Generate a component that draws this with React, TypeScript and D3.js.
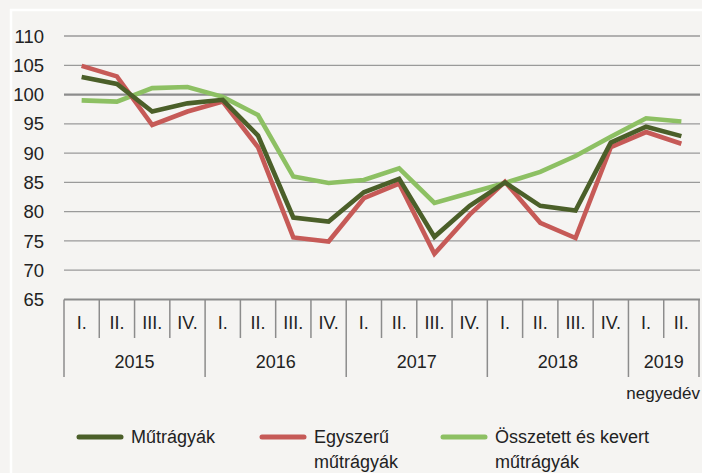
import React, { useEffect, useRef } from "react";
import * as d3 from "d3";

const quarters = ["I.", "II.", "III.", "IV.", "I.", "II.", "III.", "IV.", "I.", "II.", "III.", "IV.", "I.", "II.", "III.", "IV.", "I.", "II."];
const years = ["2015", "2016", "2017", "2018", "2019"];
const yearQuarterCounts = [4, 4, 4, 4, 2];
const yTicks = [65, 70, 75, 80, 85, 90, 95, 100, 105, 110];

const mutragyak = [103.0, 101.8, 97.1, 98.5, 99.1, 93.0, 79.0, 78.3, 83.3, 85.6, 75.7, 81.0, 85.0, 81.0, 80.2, 91.8, 94.5, 92.9];
const egyszeru = [104.9, 103.1, 94.8, 97.1, 98.8, 91.0, 75.6, 74.9, 82.3, 84.8, 72.8, 79.5, 85.1, 78.1, 75.5, 91.0, 93.6, 91.6];
const osszetett = [99.0, 98.8, 101.1, 101.3, 99.6, 96.5, 86.0, 84.9, 85.4, 87.4, 81.5, 83.2, 84.9, 86.8, 89.5, 92.8, 95.95, 95.4];

const seriesNames = ["Műtrágyák", "Egyszerű műtrágyák", "Összetett és kevert műtrágyák"];
const legendLines = [["Műtrágyák"], ["Egyszerű", "műtrágyák"], ["Összetett és kevert", "műtrágyák"]];
const colors = ["#4b5f29", "#c65a57", "#8dc063"];
const axisNote = "negyedév";

const W = 702, H = 473;
const FONT = "'Liberation Sans Narrow', 'Arial Narrow', 'Liberation Sans', Arial, sans-serif";

export default function App() {
  const ref = useRef<SVGSVGElement>(null);
  useEffect(() => {
    document.body.style.margin = "0";
    const svg = d3.select(ref.current);
    svg.selectAll("*").remove();
    svg.append("rect").attr("width", W).attr("height", H).attr("fill", "#f5f4f2");
    svg.append("rect").attr("x", 11).attr("y", 10).attr("width", W + 20).attr("height", H + 20)
      .attr("fill", "none").attr("stroke", "#ffffff").attr("stroke-width", 2.5);

    const x0 = 64, x1 = 699;
    const xBand = d3.scaleBand<number>().domain(d3.range(quarters.length)).range([x0, x1]);
    const y = d3.scaleLinear().domain([65, 110]).range([299.5, 36]);

    // gridlines
    const g = svg.append("g");
    yTicks.filter(t => t > 65).forEach(t => {
      g.append("line").attr("x1", x0).attr("x2", x1 + 1).attr("y1", y(t)).attr("y2", y(t))
        .attr("stroke", t === 100 ? "#8c8c8c" : "#9a9a9a").attr("stroke-width", t === 100 ? 2.2 : 1.3);
    });
    yTicks.forEach(t => {
      svg.append("text").attr("x", 44).attr("y", y(t)).attr("dy", "0.36em").attr("text-anchor", "end")
        .attr("font-family", FONT).attr("font-size", 18.5).attr("fill", "#222").text(String(t));
    });

    // x axis
    const axY = y(65);
    svg.append("line").attr("x1", x0).attr("x2", x1 + 1).attr("y1", axY).attr("y2", axY)
      .attr("stroke", "#8c8c8c").attr("stroke-width", 2);
    const step = xBand.step();
    d3.range(quarters.length + 1).forEach(i => {
      const xx = x0 + i * step;
      svg.append("line").attr("x1", xx).attr("x2", xx).attr("y1", axY).attr("y2", 338)
        .attr("stroke", "#8c8c8c").attr("stroke-width", 1.5);
    });
    quarters.forEach((q, i) => {
      svg.append("text").attr("x", (xBand(i) as number) + step / 2).attr("y", 323).attr("dy", "0.36em")
        .attr("text-anchor", "middle").attr("font-family", FONT).attr("font-size", 18).attr("fill", "#222").text(q);
    });
    let acc = 0;
    const bounds = [0];
    yearQuarterCounts.forEach(c => { acc += c; bounds.push(acc); });
    bounds.forEach(b => {
      const xx = x0 + b * step;
      svg.append("line").attr("x1", xx).attr("x2", xx).attr("y1", 338).attr("y2", 377)
        .attr("stroke", "#8c8c8c").attr("stroke-width", 1.5);
    });
    years.forEach((yr, i) => {
      const xm = x0 + ((bounds[i] + bounds[i + 1]) / 2) * step;
      svg.append("text").attr("x", xm).attr("y", 362).attr("dy", "0.36em").attr("text-anchor", "middle")
        .attr("font-family", FONT).attr("font-size", 18).attr("fill", "#222").text(yr);
    });
    svg.append("text").attr("x", 700).attr("y", 393).attr("dy", "0.36em").attr("text-anchor", "end")
      .attr("font-family", FONT).attr("font-size", 17).attr("fill", "#222").text(axisNote);

    // lines
    const data = [mutragyak, egyszeru, osszetett];
    const order = [2, 1, 0];
    const line = d3.line<number>().x((_, i) => (xBand(i) as number) + step / 2).y(d => y(d));
    order.forEach(si => {
      svg.append("path").attr("d", line(data[si]) as string).attr("fill", "none")
        .attr("stroke", colors[si]).attr("stroke-width", 4.6).attr("stroke-linejoin", "miter");
    });

    // legend
    const lx = [79, 262, 443];
    seriesNames.forEach((_, i) => {
      svg.append("line").attr("x1", lx[i]).attr("x2", lx[i] + 42).attr("y1", 437).attr("y2", 437)
        .attr("stroke", colors[i]).attr("stroke-width", 5).attr("stroke-linecap", "round");
      legendLines[i].forEach((t, j) => {
        svg.append("text").attr("x", lx[i] + 52).attr("y", 437 + j * 25).attr("dy", "0.36em")
          .attr("font-family", FONT).attr("font-size", 18).attr("fill", "#222").text(t);
      });
    });
  }, []);
  return <svg ref={ref} width={W} height={H} style={{ display: "block" }} />;
}
